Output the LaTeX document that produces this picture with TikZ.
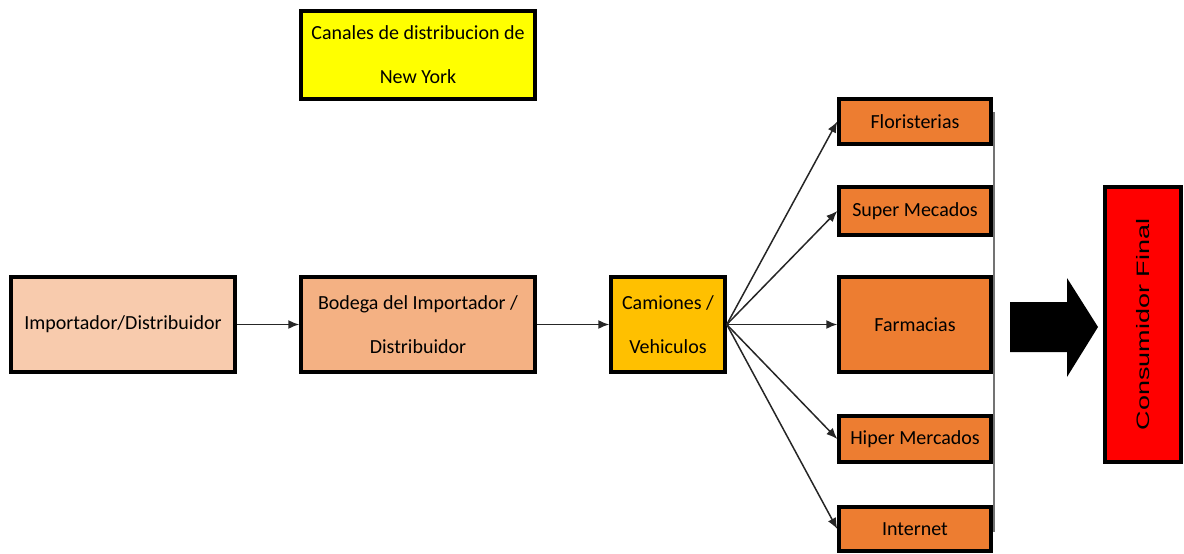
\documentclass[tikz,border=0pt]{standalone}
\usepackage{fontspec}
\setmainfont{Carlito}
\newfontfamily\arialf{Liberation Sans}
\usetikzlibrary{arrows.meta}
\definecolor{cpeach}{HTML}{F8CBAD}
\definecolor{cbodega}{HTML}{F4B183}
\definecolor{ccam}{HTML}{FFC000}
\definecolor{corange}{HTML}{ED7D31}
\definecolor{cyellow}{HTML}{FFFF00}
\definecolor{cred}{HTML}{FF0000}
\begin{document}
\begin{tikzpicture}[x=1pt,y=-1pt,
  box/.style={draw=black,line width=3.5pt,inner sep=0pt,align=center,
    font=\fontsize{20}{44}\selectfont},
  conn/.style={draw=black!85,line width=1.5pt,-{Latex[length=11pt,width=9pt]}}]
\useasboundingbox (0,0) rectangle (1184,554);
\node[box,fill=cyellow,minimum width=234pt,minimum height=88pt] (title) at (418,55) {Canales de distribucion de\\New York};
\node[box,fill=cpeach,minimum width=224pt,minimum height=95pt] (imp) at (123,324.5) {Importador/Distribuidor};
\node[box,fill=cbodega,minimum width=234pt,minimum height=95pt] (bod) at (418,324.5) {Bodega del Importador /\\Distribuidor};
\node[box,fill=ccam,minimum width=114pt,minimum height=95pt] (cam) at (668,324.5) {Camiones /\\Vehiculos};
\node[box,fill=corange,minimum width=152pt,minimum height=45pt] (flor) at (915,121.5) {Floristerias};
\node[box,fill=corange,minimum width=152pt,minimum height=48pt] (sup) at (915,211) {Super Mecados};
\node[box,fill=corange,minimum width=152pt,minimum height=95pt] (farm) at (915,324.5) {Farmacias};
\node[box,fill=corange,minimum width=152pt,minimum height=46pt] (hip) at (915,439) {Hiper Mercados};
\node[box,fill=corange,minimum width=152pt,minimum height=44pt] (int) at (915,529) {Internet};
\node[box,fill=cred,minimum width=76pt,minimum height=275pt] (cons) at (1143,324.5) {\rotatebox{90}{\scalebox{1.5}[1]{\arialf\fontsize{18}{20}\selectfont Consumidor Final}}};
\draw[conn] (imp) -- (bod);
\draw[conn] (bod) -- (cam);
\draw[conn] (cam.east) -- (flor.west);
\draw[conn] (cam.east) -- (sup.west);
\draw[conn] (cam.east) -- (farm.west);
\draw[conn] (cam.east) -- (hip.west);
\draw[conn] (cam.east) -- (int.west);
\coordinate (vtop) at (994,112);
\coordinate (vbot) at (994,532);
\draw[black!55,line width=2pt] (vtop) -- (vbot);
\fill[black] (1010,302) -- (1067,302) -- (1067,278) -- (1098,327) -- (1067,377) -- (1067,352) -- (1010,352) -- cycle;
\end{tikzpicture}
\end{document}
